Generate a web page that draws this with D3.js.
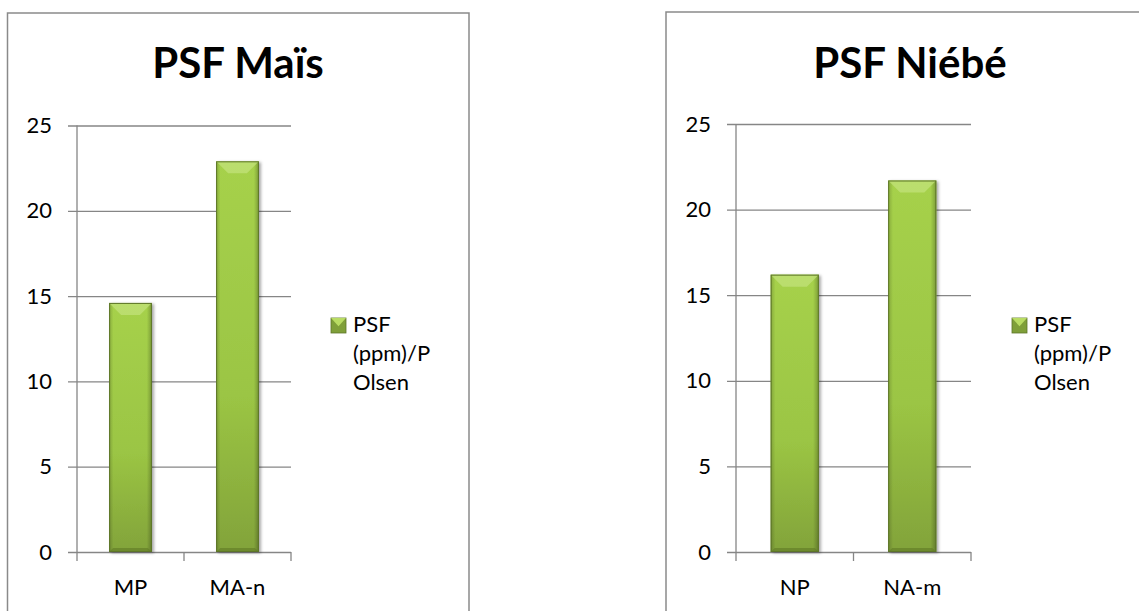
<!DOCTYPE html>
<html lang="fr">
<head>
<meta charset="UTF-8">
<title>PSF</title>
<script src="https://cdn.jsdelivr.net/npm/d3@7"></script>
<style>
  html, body { margin: 0; padding: 0; background: #fff; }
  svg { display: block; }
  text { font-family: Lato, "Noto Sans", sans-serif; fill: #000; }
  .tick text { font-size: 22px; }
  .title { font-size: 42px; font-weight: bold; }
  .legend text { font-size: 22px; }
</style>
</head>
<body>
<script>
// data
var maisCategories = ["MP", "MA-n"];
var maisValues = [14.6, 22.9];
var niebeCategories = ["NP", "NA-m"];
var niebeValues = [16.2, 21.7];
var yTicks = [0, 5, 10, 15, 20, 25];
var legendLines = ["PSF", "(ppm)/P", "Olsen"];

var W = 1139, H = 611;

var svg = d3.select("body").append("svg")
  .attr("width", W)
  .attr("height", H);

var defs = svg.append("defs");

var grad = defs.append("linearGradient")
  .attr("id", "barGrad")
  .attr("x1", 0).attr("y1", 0).attr("x2", 0).attr("y2", 1);
grad.append("stop").attr("offset", "0%").attr("stop-color", "#a6d14b");
grad.append("stop").attr("offset", "60%").attr("stop-color", "#9bc544");
grad.append("stop").attr("offset", "100%").attr("stop-color", "#82a33a");

var hgrad = defs.append("linearGradient")
  .attr("id", "sideGrad")
  .attr("x1", 0).attr("y1", 0).attr("x2", 1).attr("y2", 0);
hgrad.append("stop").attr("offset", "0%").attr("stop-color", "#000").attr("stop-opacity", 0.18);
hgrad.append("stop").attr("offset", "10%").attr("stop-color", "#000").attr("stop-opacity", 0.0);
hgrad.append("stop").attr("offset", "88%").attr("stop-color", "#000").attr("stop-opacity", 0.0);
hgrad.append("stop").attr("offset", "100%").attr("stop-color", "#000").attr("stop-opacity", 0.25);

var shadow = defs.append("filter")
  .attr("id", "shadow")
  .attr("x", "-30%").attr("y", "-10%").attr("width", "160%").attr("height", "120%");
shadow.append("feDropShadow")
  .attr("dx", 2).attr("dy", 1).attr("stdDeviation", 1.8)
  .attr("flood-color", "#000").attr("flood-opacity", 0.35);

function drawChart(cfg) {
  var g = svg.append("g");

  // frame (open at the bottom)
  var framePath = "M" + cfg.box.x + "," + H + "V" + cfg.box.y + "H" + cfg.box.x2 +
    (cfg.box.closed ? "V" + H : "");
  g.append("path")
    .attr("d", framePath)
    .attr("fill", "none")
    .attr("stroke", "#8a8a8a")
    .attr("stroke-width", 1.5);

  g.append("text")
    .attr("class", "title")
    .attr("x", cfg.titleX)
    .attr("y", 78)
    .attr("text-anchor", "middle")
    .text(cfg.title);

  var y = d3.scaleLinear()
    .domain([0, 25])
    .range([cfg.plot.bottom, cfg.plot.top]);

  var x = d3.scaleBand()
    .domain(cfg.categories)
    .range([cfg.plot.left, cfg.plot.right])
    .paddingInner(cfg.pad)
    .paddingOuter(cfg.pad / 2);

  // gridlines + y labels
  var yAxis = g.append("g")
    .attr("transform", "translate(" + cfg.plot.left + ",0)")
    .call(d3.axisLeft(y)
      .tickValues(yTicks)
      .tickSize(9)
      .tickPadding(16)
      .tickFormat(d3.format("d")));
  yAxis.select(".domain").remove();
  yAxis.selectAll(".tick line")
    .attr("stroke", "#868686")
    .attr("stroke-width", 1.3)
    .attr("x1", -9)
    .attr("x2", cfg.plot.right - cfg.plot.left);

  // vertical axis line
  g.append("line")
    .attr("x1", cfg.plot.left).attr("x2", cfg.plot.left)
    .attr("y1", y(25)).attr("y2", cfg.plot.bottom + 9)
    .attr("stroke", "#868686").attr("stroke-width", 1.3);

  // category separators below baseline
  var step = x.step();
  cfg.categories.forEach(function (c, i) {
    var xs = x(c) + x.bandwidth() + step * cfg.pad / 2;
    g.append("line")
      .attr("x1", xs).attr("x2", xs)
      .attr("y1", cfg.plot.bottom).attr("y2", cfg.plot.bottom + 9)
      .attr("stroke", "#868686").attr("stroke-width", 1.3);
  });

  // bars
  var bars = g.selectAll(".bar")
    .data(cfg.values)
    .enter().append("g")
    .attr("class", "bar");

  bars.each(function (d, i) {
    var b = d3.select(this);
    var bx = x(cfg.categories[i]), bw = x.bandwidth();
    var by = y(d), bh = cfg.plot.bottom - y(d);
    var bev = 12;

    b.append("rect")
      .attr("x", bx).attr("y", by)
      .attr("width", bw).attr("height", bh)
      .attr("fill", "url(#barGrad)")
      .attr("filter", "url(#shadow)");
    b.append("rect")
      .attr("x", bx).attr("y", by)
      .attr("width", bw).attr("height", bh)
      .attr("fill", "url(#sideGrad)");
    // top facet
    b.append("path")
      .attr("d", "M" + bx + "," + by + "H" + (bx + bw) +
        "L" + (bx + bw - bev) + "," + (by + bev) + "H" + (bx + bev) + "Z")
      .attr("fill", "#c2e27a").attr("opacity", 0.75);
    // bottom facet
    b.append("path")
      .attr("d", "M" + bx + "," + (by + bh) + "H" + (bx + bw) +
        "L" + (bx + bw - 4) + "," + (by + bh - 4) + "H" + (bx + 4) + "Z")
      .attr("fill", "#5f7a25").attr("opacity", 0.6);
    b.append("rect")
      .attr("x", bx + 0.5).attr("y", by + 0.5)
      .attr("width", bw - 1).attr("height", bh - 1)
      .attr("fill", "none")
      .attr("stroke", "#5d7528").attr("stroke-width", 1);
  });

  // x labels
  g.selectAll(".xlab")
    .data(cfg.categories)
    .enter().append("text")
    .attr("class", "xlab")
    .attr("x", function (c) { return x(c) + x.bandwidth() / 2; })
    .attr("y", 595)
    .attr("text-anchor", "middle")
    .style("font-size", "22px")
    .text(function (c) { return c; });

  // legend
  var lg = g.append("g").attr("class", "legend");
  var mx = cfg.legend.x, my = 318, ms = 15;
  lg.append("rect")
    .attr("x", mx).attr("y", my).attr("width", ms).attr("height", ms)
    .attr("fill", "#7f9f39").attr("stroke", "#5d7528").attr("stroke-width", 0.8);
  lg.append("path")
    .attr("d", "M" + mx + "," + my + "H" + (mx + ms) + "L" + (mx + ms / 2) + "," + (my + ms * 0.55) + "Z")
    .attr("fill", "#b9dc63");
  lg.selectAll("text")
    .data(legendLines)
    .enter().append("text")
    .attr("x", mx + 22)
    .attr("y", function (d, i) { return 332 + i * 29; })
    .text(function (d) { return d; });
}

drawChart({
  title: "PSF Maïs",
  titleX: 238,
  categories: maisCategories,
  values: maisValues,
  box: { x: 7.5, y: 13, x2: 469, closed: true },
  plot: { left: 77, right: 291, top: 125.5, bottom: 552 },
  pad: 0.6,
  legend: { x: 331 }
});

drawChart({
  title: "PSF Niébé",
  titleX: 910,
  categories: niebeCategories,
  values: niebeValues,
  box: { x: 666, y: 12, x2: W + 5, closed: false },
  plot: { left: 736, right: 971, top: 124, bottom: 552 },
  pad: 0.59,
  legend: { x: 1012 }
});
</script>
</body>
</html>
